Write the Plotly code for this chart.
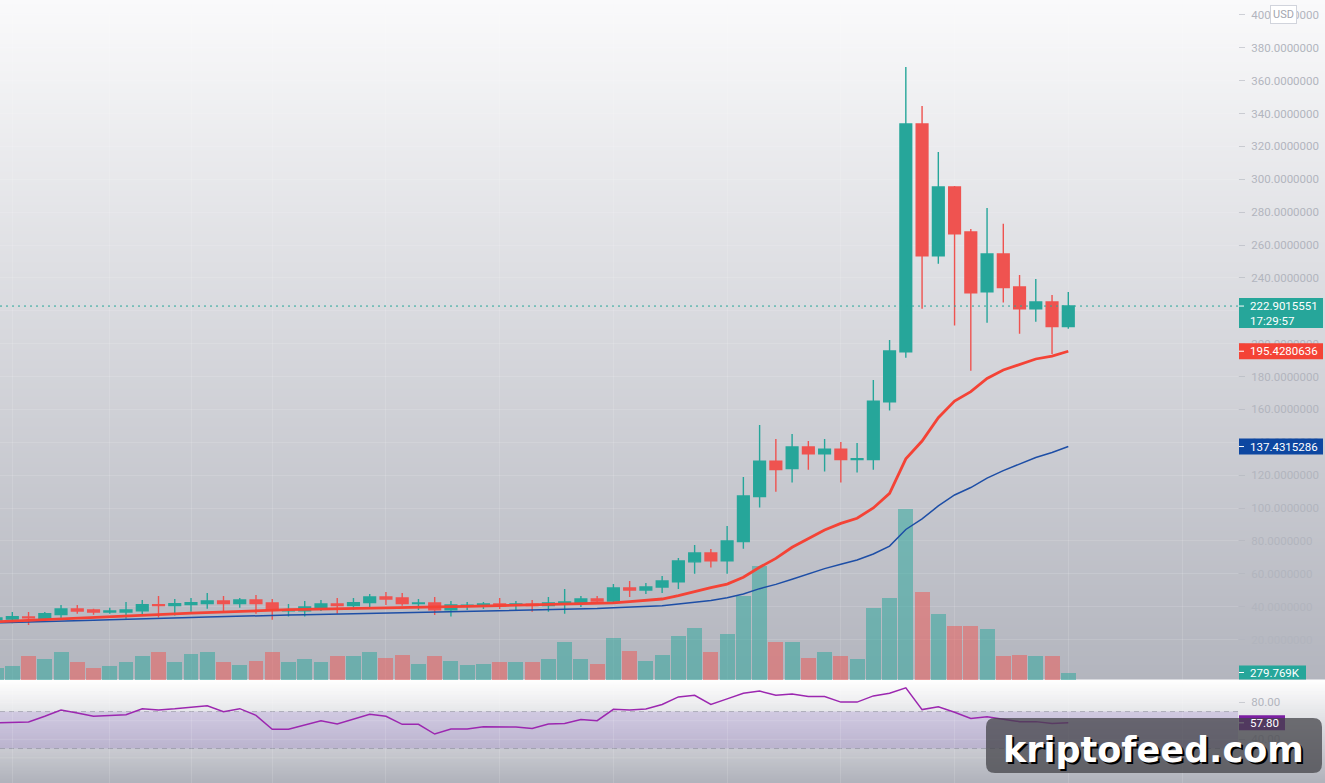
import plotly.graph_objects as go

# ---------------- data (weekly candles) ----------------
open_ = [31.9, 32.5, 33.8, 32.5, 35.2, 38.6, 38.0, 36.8, 36.8, 37.6,
         41.3, 40.7, 41.3, 41.9, 43.5, 41.9, 44.1, 42.3, 37.6, 37.6,
         39.2, 41.7, 40.7, 42.5, 45.9, 45.3, 41.9, 42.3, 38.2, 40.5,
         40.7, 41.7, 41.1, 41.5, 40.7, 41.7, 42.3, 44.7, 43.5, 51.4,
         50.2, 52.0, 55.1, 67.3, 72.7, 68.0, 79.6, 107.0, 128.6, 124.0,
         137.2, 133.1, 135.9, 129.5, 129.5, 164.7, 195.1, 333.6, 253.5, 295.3,
         267.9, 231.6, 254.6, 234.5, 221.3, 225.4, 210.4]
high = [33.8, 36.8, 36.8, 36.8, 41.1, 41.1, 38.8, 39.4, 42.9, 44.1,
        46.5, 44.7, 45.3, 48.4, 46.5, 45.3, 47.1, 44.7, 41.7, 43.5,
        44.1, 45.3, 45.3, 47.7, 49.0, 48.4, 44.7, 45.9, 43.5, 42.9,
        42.9, 45.3, 43.5, 44.1, 45.9, 50.8, 46.5, 46.5, 53.8, 55.7,
        54.4, 58.7, 69.6, 77.6, 75.1, 89.1, 118.9, 150.5, 142.0, 145.1,
        140.8, 142.0, 140.2, 139.6, 177.9, 202.2, 368.3, 344.6, 316.6, 295.9,
        269.8, 282.5, 273.0, 241.8, 239.4, 229.6, 231.4]
low = [31.0, 29.9, 28.9, 31.5, 33.0, 35.8, 35.2, 35.8, 32.7, 34.6,
       33.4, 34.6, 37.0, 38.8, 37.0, 39.4, 35.8, 32.1, 34.0, 34.0,
       37.4, 35.8, 38.2, 39.4, 41.1, 40.6, 38.0, 35.0, 34.0, 38.0,
       38.6, 38.6, 37.4, 37.0, 37.0, 35.8, 39.8, 41.7, 41.7, 45.9,
       47.7, 48.4, 50.8, 60.1, 63.8, 60.1, 75.3, 100.3, 110.0, 115.5,
       123.4, 122.2, 115.5, 121.6, 123.4, 159.3, 191.5, 221.3, 248.7, 211.0,
       183.6, 212.8, 225.0, 206.1, 213.4, 193.7, 209.1]
close = [33.2, 34.0, 33.2, 35.8, 38.6, 37.4, 36.8, 37.4, 38.0, 41.3,
         40.7, 41.9, 42.5, 43.5, 41.9, 44.1, 41.9, 37.8, 38.2, 39.8,
         41.7, 40.7, 42.5, 45.9, 44.7, 41.9, 42.3, 38.2, 41.1, 40.9,
         41.7, 40.5, 41.7, 40.7, 42.3, 42.9, 44.7, 43.5, 51.4, 50.2,
         52.0, 55.7, 67.8, 72.7, 68.0, 80.0, 107.4, 128.6, 123.4, 137.2,
         133.1, 135.9, 129.5, 130.1, 165.1, 195.6, 333.6, 253.5, 295.3, 266.9,
         231.0, 254.6, 234.1, 221.3, 225.4, 210.4, 222.9015551]
volume_k = [466, 541, 877, 765, 1063, 690, 466, 541, 690, 914,
            1063, 653, 988, 1063, 690, 578, 727, 1063, 690, 765,
            653, 877, 877, 1063, 839, 951, 615, 914, 727, 578,
            615, 690, 690, 690, 765, 1399, 765, 615, 1585, 1100,
            727, 951, 1623, 1958, 1063, 1734, 3115, 4234, 1399, 1436,
            839, 1026, 914, 765, 2704, 3077, 6360, 3264, 2480, 1996,
            1996, 1921, 914, 951, 877, 914, 279.769]
ema_fast = [30.8, 31.2, 31.6, 32.0, 32.4, 32.8, 33.3, 33.8, 34.2, 34.7,
            35.2, 35.6, 36.1, 36.5, 37.0, 37.4, 37.7, 38.0, 38.2, 38.4,
            38.6, 38.9, 39.2, 39.5, 39.7, 39.9, 40.0, 40.0, 40.1, 40.2,
            40.4, 40.6, 40.9, 41.0, 41.2, 41.4, 41.7, 42.0, 42.4, 43.1,
            43.9, 44.7, 46.8, 49.3, 51.6, 53.8, 57.9, 64.0, 69.4, 76.2,
            81.6, 86.7, 90.7, 93.8, 100.1, 109.0, 130.0, 140.8, 155.0, 165.1,
            170.8, 178.9, 184.0, 187.4, 190.7, 192.5, 195.4280636]
ema_slow = [30.2, 30.4, 30.7, 30.9, 31.2, 31.5, 31.8, 32.1, 32.3, 32.6,
            32.9, 33.2, 33.5, 33.8, 34.1, 34.4, 34.6, 34.7, 34.9, 35.1,
            35.3, 35.5, 35.6, 35.8, 36.0, 36.2, 36.4, 36.6, 36.8, 37.0,
            37.2, 37.4, 37.5, 37.7, 37.9, 38.1, 38.5, 38.9, 39.4, 39.9,
            40.3, 40.6, 41.6, 42.8, 43.8, 45.5, 47.8, 51.0, 53.6, 56.7,
            60.0, 63.2, 65.8, 68.4, 72.1, 76.9, 87.0, 93.5, 101.3, 108.0,
            112.5, 118.2, 122.8, 126.8, 130.8, 133.8, 137.4315286]
rsi = [57.9, 58.4, 58.7, 64.9, 71.7, 68.4, 64.9, 65.7, 66.6, 73.1,
       71.7, 72.9, 74.2, 76.3, 69.8, 73.1, 65.9, 50.8, 50.8, 55.2,
       60.1, 56.5, 61.7, 67.0, 64.9, 56.2, 56.2, 45.7, 51.1, 51.1,
       53.6, 53.5, 53.3, 51.8, 56.6, 57.0, 61.5, 60.1, 72.4, 71.8,
       72.8, 77.7, 85.8, 87.6, 77.7, 83.7, 89.7, 92.1, 87.6, 89.0,
       86.2, 86.2, 80.2, 80.2, 86.9, 89.7, 95.7, 72.1, 75.2, 69.3,
       62.6, 64.3, 61.5, 59.1, 59.1, 57.0, 57.80]
price_ticks = list(range(20, 401, 20))
rsi_ticks = [40, 80]
rsi_grid = [20, 40, 60, 80]
grid_idx = [1, 7, 12, 17, 24, 31, 38, 45, 52, 59, 66, 73]
clock_text = "17:29:57"
currency = "USD"
watermark = "kriptofeed.com"

n = len(close)
assert all(len(a) == n for a in [open_, high, low, volume_k, ema_fast, ema_slow, rsi])
idx = list(range(n))

# ---------------- style ----------------
W, H = 1325, 783
PLOT_R = 1238          # right edge of plotting area (px)
SPLIT = 680            # boundary price pane / rsi pane (px from top)
UP, DOWN = "#26a69a", "#ef5350"
RED, BLUE, PURPLE = "#f44336", "#1d4ea6", "#9c27b0"
GRID = "rgba(255,255,255,0.13)"
TICKFONT = dict(family="Roboto", size=11.5, color="#b2b5be")

vol_colors = ["rgba(38,166,154,0.5)" if c >= o else "rgba(239,83,80,0.5)"
              for o, c in zip(open_, close)]

fig = go.Figure()
fig.add_trace(go.Bar(x=idx, y=volume_k, width=0.92, marker=dict(color=vol_colors, line_width=0),
                     xaxis="x", yaxis="y", hoverinfo="skip"))
fig.add_trace(go.Candlestick(x=idx, open=open_, high=high, low=low, close=close,
                             xaxis="x", yaxis="y2", whiskerwidth=0, hoverinfo="skip",
                             increasing=dict(line=dict(color=UP, width=1.4), fillcolor=UP),
                             decreasing=dict(line=dict(color=DOWN, width=1.4), fillcolor=DOWN)))
fig.add_trace(go.Scatter(x=idx, y=ema_slow, mode="lines", line=dict(color=BLUE, width=1.5),
                         xaxis="x", yaxis="y2", hoverinfo="skip"))
fig.add_trace(go.Scatter(x=idx, y=ema_fast, mode="lines", line=dict(color=RED, width=2.8),
                         xaxis="x", yaxis="y2", hoverinfo="skip"))
fig.add_trace(go.Scatter(x=idx, y=rsi, mode="lines", line=dict(color=PURPLE, width=1.5),
                         xaxis="x", yaxis="y3", hoverinfo="skip"))

# ---------------- background gradients ----------------
shapes = []


def gradient(py0, py1, c0, c1, step=2):
    k = max(1, int(round((py1 - py0) / step)))
    for j in range(k):
        a = py0 + (py1 - py0) * j / k
        b = py0 + (py1 - py0) * (j + 1) / k
        t = (j + 0.5) / k
        col = tuple(round(u + (v - u) * t) for u, v in zip(c0, c1))
        shapes.append(dict(type="rect", xref="paper", yref="paper", layer="below",
                           x0=-0.01, x1=W / PLOT_R + 0.01,
                           y0=1 - (b + 0.6) / H, y1=1 - (a - 0.6) / H,
                           fillcolor="rgb(%d,%d,%d)" % col, line_width=0))


gradient(0, SPLIT, (250, 250, 251), (179, 181, 190))
gradient(SPLIT, H, (255, 255, 255), (176, 178, 187))

# RSI band, levels and grid
shapes.append(dict(type="rect", xref="paper", yref="y3", x0=0, x1=1, y0=30, y1=70,
                   fillcolor="rgba(126,87,194,0.2)", line_width=0, layer="below"))
for g in rsi_grid:
    shapes.append(dict(type="line", xref="paper", yref="y3", x0=0, x1=1, y0=g, y1=g,
                       line=dict(color=GRID, width=1), layer="below"))
for lvl in (70, 30):
    shapes.append(dict(type="line", xref="paper", yref="y3", x0=0, x1=1, y0=lvl, y1=lvl,
                       line=dict(color="rgba(120,123,134,0.45)", width=1, dash="5px,4px"),
                       layer="below"))

# current price dotted line
shapes.append(dict(type="line", xref="paper", yref="y2", x0=0, x1=1, y0=close[-1], y1=close[-1],
                   line=dict(color=UP, width=1, dash="2px,4px"), layer="above"))

annotations = []


def price_label(yref, value, text, color, box_w, up=8, down=8, text2=None):
    shapes.append(dict(type="rect", xref="paper", xsizemode="pixel", xanchor=1, x0=1, x1=1 + box_w,
                       yref=yref, ysizemode="pixel", yanchor=value, y0=-down, y1=up,
                       fillcolor=color, line_width=0, layer="above"))
    shapes.append(dict(type="line", xref="paper", xsizemode="pixel", xanchor=1, x0=1, x1=6,
                       yref=yref, ysizemode="pixel", yanchor=value, y0=0, y1=0,
                       line=dict(color="white", width=1), layer="above"))
    annotations.append(dict(xref="paper", x=1, xshift=10, xanchor="left", yref=yref, y=value,
                            yanchor="middle", text=text, showarrow=False,
                            font=dict(family="Roboto", size=11.5, color="white")))
    if text2:
        annotations.append(dict(xref="paper", x=1, xshift=10, xanchor="left", yref=yref, y=value,
                                yanchor="middle", yshift=-15, text=text2, showarrow=False,
                                font=dict(family="Roboto", size=11.5, color="white")))


price_label("y2", close[-1], "%.7f" % close[-1], UP, 84, up=8, down=22, text2=clock_text)
price_label("y2", ema_fast[-1], "%.7f" % ema_fast[-1], RED, 84)
price_label("y2", ema_slow[-1], "%.7f" % ema_slow[-1], "#0d47a1", 84)
price_label("y", volume_k[-1], "%.3fK" % volume_k[-1], UP, 67, up=7, down=7)
price_label("y3", rsi[-1], "%.2f" % rsi[-1], "#7b1fa2", 46, up=7.5, down=7.5)

# currency badge
annotations.append(dict(xref="paper", yref="paper", x=1283.5 / PLOT_R, y=1 - 14 / H,
                        xanchor="center", yanchor="middle", text=currency, showarrow=False,
                        bgcolor="white", bordercolor="#d1d4dc", borderwidth=1, borderpad=2,
                        font=dict(family="Roboto", size=11, color="#a3a6af")))

# watermark box (rounded)
L, R, T, B, rad = 986, 1322, 718, 773, 9


def px(x):
    return x / PLOT_R


def py(y):
    return 1 - y / H


path = ("M %f,%f L %f,%f Q %f,%f %f,%f L %f,%f Q %f,%f %f,%f L %f,%f Q %f,%f %f,%f "
        "L %f,%f Q %f,%f %f,%f Z") % (
    px(L + rad), py(T), px(R - rad), py(T), px(R), py(T), px(R), py(T + rad),
    px(R), py(B - rad), px(R), py(B), px(R - rad), py(B),
    px(L + rad), py(B), px(L), py(B), px(L), py(B - rad),
    px(L), py(T + rad), px(L), py(T), px(L + rad), py(T))
shapes.append(dict(type="path", xref="paper", yref="paper", path=path,
                   fillcolor="rgba(66,66,72,0.74)", line_width=0, layer="above"))
annotations.append(dict(xref="paper", yref="paper", x=px(1153), y=py(750),
                        xanchor="center", yanchor="middle", text=watermark, showarrow=False,
                        font=dict(family="DejaVu Sans", size=35, color="white", weight="bold",
                                  shadow="2px 2px 0px #000")))

# ---------------- axes ----------------
pitch = 16.246
x_off = -3.95
x_lo = (0 - x_off) / pitch
x_hi = (PLOT_R - x_off) / pitch
split = 1 - SPLIT / H
p_per_px = 1.644
p_zero_px = 672.5
price_range = [(p_zero_px - SPLIT) / p_per_px, p_zero_px / p_per_px]
vol_range = [0, SPLIT * 37.3]
r_per_px = 0.925
r_zero_px = 776.3
rsi_range = [(r_zero_px - H) / r_per_px, (r_zero_px - SPLIT) / r_per_px]

axis_common = dict(side="right", gridcolor=GRID, gridwidth=1, zeroline=False,
                   showline=False, ticks="outside", ticklen=6, tickcolor="rgba(178,181,190,0.6)",
                   tickfont=TICKFONT, ticklabelstandoff=4, fixedrange=True)

fig.update_layout(
    width=W, height=H, margin=dict(l=0, r=W - PLOT_R, t=0, b=0),
    paper_bgcolor="white", plot_bgcolor="rgba(0,0,0,0)",
    showlegend=False, hovermode=False, boxgap=0.15, boxgroupgap=0.15, bargap=0,
    xaxis=dict(range=[x_lo, x_hi], showticklabels=False, showgrid=True, gridcolor=GRID,
               tickvals=grid_idx, ticks="", zeroline=False, showline=False,
               rangeslider=dict(visible=False), fixedrange=True),
    yaxis=dict(domain=[split, 1], range=vol_range, visible=False, fixedrange=True),
    yaxis2=dict(overlaying="y", range=price_range, tickvals=price_ticks, tickformat=".7f",
                showgrid=True, **axis_common),
    yaxis3=dict(domain=[0, split], anchor="x", range=rsi_range, tickvals=rsi_ticks,
                tickformat=".2f", showgrid=False, **axis_common),
    shapes=shapes, annotations=annotations,
)

fig.write_html("out.html")
